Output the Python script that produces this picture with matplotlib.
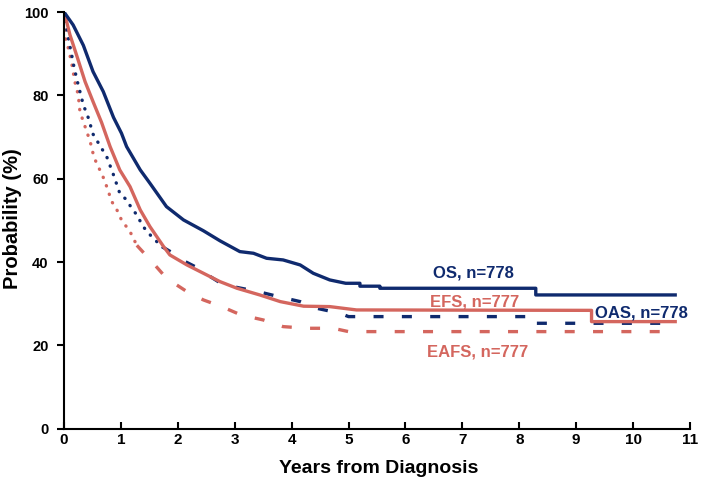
import numpy as np
import matplotlib
matplotlib.use("Agg")
import matplotlib.pyplot as plt

plt.rcParams['font.family'] = ['Liberation Sans', 'DejaVu Sans']

# survival curves (years, %)
os_t = [0, 0.16, 0.34, 0.51, 0.69, 0.87, 1.01, 1.1, 1.34, 1.51, 1.8, 2.1, 2.45, 2.74,
        3.09, 3.33, 3.56, 3.85, 4.15, 4.38, 4.67, 4.95, 5.2, 5.2, 5.55, 5.55, 8.29, 8.29, 10.74]
os_y = [100, 96.9, 92, 85.7, 80.9, 74.7, 70.9, 67.7, 62.1, 58.9, 53.3, 50.1, 47.5, 45.1,
        42.5, 42.1, 40.9, 40.5, 39.3, 37.3, 35.7, 34.9, 34.9, 34.2, 34.2, 33.7, 33.7, 32.1, 32.1]

efs_t = [0, 0.05, 0.105, 0.22, 0.37, 0.51, 0.66, 0.81, 0.98, 1.16, 1.34, 1.51, 1.75, 1.86,
         2.16, 2.45, 2.74, 3.04, 3.44, 3.80, 4.21, 4.67, 5.14, 9.27, 9.27, 10.74]
efs_y = [100, 97.5, 94.5, 89.7, 83.3, 78.5, 73.5, 67.7, 62.1, 58.1, 52.5, 48.5, 43.7, 41.7,
         39.3, 37.3, 35.3, 33.7, 32.1, 30.5, 29.4, 29.3, 28.5, 28.4, 25.7, 25.7]

oas_t = [0, 0.076, 0.135, 0.18, 0.25, 0.34, 0.43, 0.51, 0.66, 0.75, 0.87, 0.98, 1.1, 1.19,
         1.28, 1.39, 1.54, 1.72, 1.92, 2.13, 2.36, 2.57, 2.71, 3.04, 3.41, 3.77, 4.15, 4.44,
         4.85, 5.0, 8.29, 8.29, 10.74]
oas_y = [100, 93.7, 89.7, 86.5, 82.5, 77.7, 74.5, 70.7, 67.3, 65.3, 60.9, 56.5, 54.9, 52.9,
         51.3, 48.5, 46.1, 43.7, 42.1, 40.1, 38.5, 36.5, 35.3, 33.9, 32.9, 31.7, 30.5, 28.9,
         27.7, 26.9, 26.9, 25.3, 25.3]

eafs_t = [0, 0.02, 0.076, 0.135, 0.16, 0.19, 0.25, 0.28, 0.34, 0.40, 0.46, 0.51, 0.57, 0.66,
          0.72, 0.78, 0.84, 0.93, 1.01, 1.16, 1.28, 1.57, 1.75, 1.89, 2.16, 2.45, 2.77, 3.11,
          3.5, 3.85, 4.26, 4.73, 5.0, 10.74]
eafs_y = [100, 94, 91.3, 87.7, 85.7, 83.3, 80.1, 76.1, 73.7, 71.3, 68.9, 66.1, 63.7, 61.3,
          59.3, 56.9, 54.5, 52.5, 50.1, 47.3, 44, 39.7, 36.9, 35.3, 32.9, 30.9, 29.3, 27.3,
          26.1, 24.5, 24.1, 24.1, 23.3, 23.3]

NAVY = '#0f2a6e'
SALMON = '#d4665e'


def dashed_curve(ax, t, y, split, color):
    # steep early part looks dotted in the original, later part dashed
    t = np.asarray(t)
    y = np.asarray(y)
    early = t <= split
    late = t >= split
    ax.plot(t[early], y[early], color=color, lw=2.4, linestyle=(0, (0.1, 2.6)),
            dash_capstyle='round', solid_capstyle='round')
    ax.plot(t[late], y[late], color=color, lw=2.4, linestyle=(0, (3.0, 5.5)),
            dash_capstyle='butt')


fig = plt.figure(figsize=(7.01, 4.86), dpi=100)
ax = fig.add_axes([0.0913, 0.1179, 0.893, 0.8574])

dashed_curve(ax, eafs_t, eafs_y, 1.28, SALMON)
dashed_curve(ax, oas_t, oas_y, 1.72, NAVY)
ax.plot(efs_t, efs_y, color=SALMON, lw=2.4)
ax.plot(os_t, os_y, color=NAVY, lw=2.4)

lbl = dict(fontsize=12, fontweight='bold', ha='center', va='center')
ax.text(7.2, 37.3, 'OS, n=778', color=NAVY, **lbl)
ax.text(7.22, 30.4, 'EFS, n=777', color=SALMON, **lbl)
ax.text(10.15, 27.7, 'OAS, n=778', color=NAVY, **lbl)
ax.text(7.26, 18.4, 'EAFS, n=777', color=SALMON, **lbl)

ax.set_xlim(0, 11)
ax.set_ylim(0, 100)
ax.set_xticks(range(0, 12))
ax.set_yticks(range(0, 101, 20))
ax.spines['top'].set_visible(False)
ax.spines['right'].set_visible(False)
for s in ('left', 'bottom'):
    ax.spines[s].set_linewidth(1.5)
ax.tick_params(axis='x', direction='in', length=5, width=1.5, pad=3)
ax.tick_params(axis='y', direction='out', length=5, width=1.5, pad=6)
for lab in ax.get_xticklabels():
    lab.set_fontweight('bold')
    lab.set_fontsize(11)
for lab in ax.get_yticklabels():
    lab.set_fontweight('bold')
    lab.set_fontsize(10.5)

ax.set_xlabel('Years from Diagnosis', fontsize=14, fontweight='bold')
ax.xaxis.set_label_coords(0.503, -0.075)
ax.set_ylabel('Probability (%)', fontsize=14.5, fontweight='bold')
ax.yaxis.set_label_coords(-0.067, 0.505)

fig.savefig('out.png', dpi=100)
